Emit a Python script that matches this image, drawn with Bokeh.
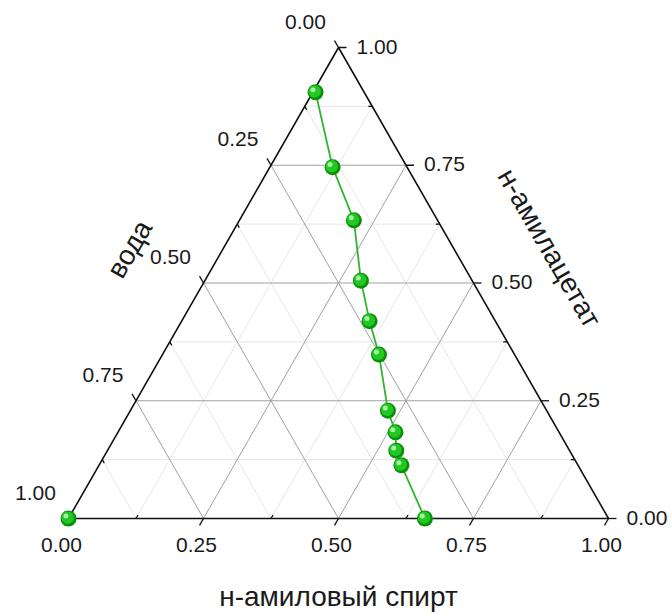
import math
from bokeh.plotting import figure
from bokeh.models import ColumnDataSource
from bokeh.core.properties import value
from bokeh.embed import file_html
from bokeh.resources import INLINE

# Composition of the measured series (mass fractions); water = 1 - alcohol - acetate
amyl_alcohol = [0.005, 0.116, 0.212, 0.289, 0.348, 0.401, 0.477, 0.514, 0.535, 0.560, 0.660]
amyl_acetate = [0.905, 0.746, 0.633, 0.505, 0.419, 0.348, 0.229, 0.183, 0.144, 0.113, 0.000]

# Pure-water corner point, drawn without a connecting line
corner_alcohol = [0.0]
corner_acetate = [0.0]

major_ticks = [0.0, 0.25, 0.5, 0.75, 1.0]
major_labels = ["0.00", "0.25", "0.50", "0.75", "1.00"]
minor_ticks = [0.125, 0.375, 0.625, 0.875]

title_bottom = "н-амиловый спирт"
title_right = "н-амилацетат"
title_left = "вода"

W, H = 672, 614
X0, Y0 = 68.0, 96.0          # bottom-left corner of the triangle
SIDE, TH = 540.0, 471.0      # side length and height of the triangle


def to_xy(a, c):
    """Ternary (alcohol, acetate) -> plot coordinates."""
    return X0 + SIDE * (a + c / 2.0), Y0 + TH * c


p = figure(width=W, height=H, x_range=(0, W), y_range=(0, H),
           x_axis_type=None, y_axis_type=None, min_border=0,
           toolbar_location=None, output_backend="svg")
p.outline_line_color = None
p.background_fill_color = "white"
p.border_fill_color = "white"

FONT = value("Liberation Sans")

# ---- grid lines ----
def grid_lines(vals):
    xs, ys = [], []
    for t in vals:
        # constant acetate (horizontal)
        (x1, y1), (x2, y2) = to_xy(0, t), to_xy(1 - t, t)
        xs.append([x1, x2]); ys.append([y1, y2])
        # constant alcohol (parallel to left edge)
        (x1, y1), (x2, y2) = to_xy(t, 0), to_xy(t, 1 - t)
        xs.append([x1, x2]); ys.append([y1, y2])
        # constant water (parallel to right edge)
        w = t
        (x1, y1), (x2, y2) = to_xy(0, 1 - w), to_xy(1 - w, 0)
        xs.append([x1, x2]); ys.append([y1, y2])
    return xs, ys

mx, my = grid_lines(minor_ticks)
p.multi_line(mx, my, line_color="#e6e6e6", line_width=1)
Mx, My = grid_lines([0.25, 0.5, 0.75])
p.multi_line(Mx, My, line_color="#a0a0a0", line_width=1)

# ---- triangle frame ----
corners = [to_xy(0, 0), to_xy(1, 0), to_xy(0, 1), to_xy(0, 0)]
p.line([c[0] for c in corners], [c[1] for c in corners], line_color="#111111", line_width=1.6)

# ---- ticks ----
s3 = math.sqrt(3) / 2
dir_bottom = (-0.5, -s3)   # outward along constant-alcohol lines
dir_right = (1.0, 0.0)     # outward along constant-acetate lines
dir_left = (-0.5, s3)      # outward along constant-water lines

def tick_segments(points, d, length):
    xs, ys = [], []
    for (x, y) in points:
        xs.append([x, x + d[0] * length]); ys.append([y, y + d[1] * length])
    return xs, ys

bottom_major = [to_xy(t, 0) for t in major_ticks]
right_major = [to_xy(1 - t, t) for t in major_ticks]
left_major = [to_xy(0, 1 - t) for t in major_ticks]
bottom_minor = [to_xy(t, 0) for t in minor_ticks]
right_minor = [to_xy(1 - t, t) for t in minor_ticks]
left_minor = [to_xy(0, 1 - t) for t in minor_ticks]

tx, ty = [], []
for pts, d in [(bottom_major, dir_bottom), (right_major, dir_right), (left_major, dir_left)]:
    a_, b_ = tick_segments(pts, d, 8)
    tx += a_; ty += b_
for pts, d in [(bottom_minor, dir_bottom), (right_minor, dir_right), (left_minor, dir_left)]:
    a_, b_ = tick_segments(pts, d, -4)
    tx += a_; ty += b_
p.multi_line(tx, ty, line_color="#111111", line_width=1.3)

# ---- tick labels ----
p.text([q[0] for q in bottom_major], [q[1] for q in bottom_major], text=major_labels,
       x_offset=-7, y_offset=26, text_align="center", text_baseline="middle",
       text_font=FONT, text_font_size="21px", text_color="#1a1a1a")
p.text([q[0] for q in right_major], [q[1] for q in right_major], text=major_labels,
       x_offset=18, y_offset=-1, text_align="left", text_baseline="middle",
       text_font=FONT, text_font_size="21px", text_color="#1a1a1a")
p.text([q[0] for q in left_major], [q[1] for q in left_major], text=major_labels,
       x_offset=-33, y_offset=-26, text_align="center", text_baseline="middle",
       text_font=FONT, text_font_size="21px", text_color="#1a1a1a")

# ---- axis titles ----
bx, by = to_xy(0.5, 0)
p.text([bx], [by - 78], text=[title_bottom], text_align="center", text_baseline="middle",
       text_font=FONT, text_font_size="28px", text_color="#1a1a1a")
rx, ry = to_xy(0.5, 0.5)
p.text([rx + 76], [ry + 35], text=[title_right], angle=-math.pi / 3,
       text_align="center", text_baseline="middle",
       text_font=FONT, text_font_size="28px", text_color="#1a1a1a")
lx, ly = to_xy(0, 0.5)
p.text([lx - 74], [ly + 34], text=[title_left], angle=math.pi / 3,
       text_align="center", text_baseline="middle",
       text_font=FONT, text_font_size="28px", text_color="#1a1a1a")

# ---- data series ----
pts = [to_xy(a, c) for a, c in zip(amyl_alcohol, amyl_acetate)]
src = ColumnDataSource(dict(x=[q[0] for q in pts], y=[q[1] for q in pts]))
p.line("x", "y", source=src, line_color="#2fb52f", line_width=1.8)

cpts = [to_xy(a, c) for a, c in zip(corner_alcohol, corner_acetate)]
all_x = [q[0] for q in pts] + [q[0] for q in cpts]
all_y = [q[1] for q in pts] + [q[1] for q in cpts]

# shaded spheres: dark rim, bright body, specular highlight
p.scatter(all_x, all_y, size=16, fill_color="#0b8f0b", line_color=None)
p.scatter([x - 0.8 for x in all_x], [y + 0.8 for y in all_y], size=12.5,
          fill_color="#22c822", line_color=None)
p.scatter([x - 2.6 for x in all_x], [y + 2.6 for y in all_y], size=5,
          fill_color="#b8f2b8", line_color=None, fill_alpha=0.9)

open("out.html", "w").write(file_html(p, INLINE))
